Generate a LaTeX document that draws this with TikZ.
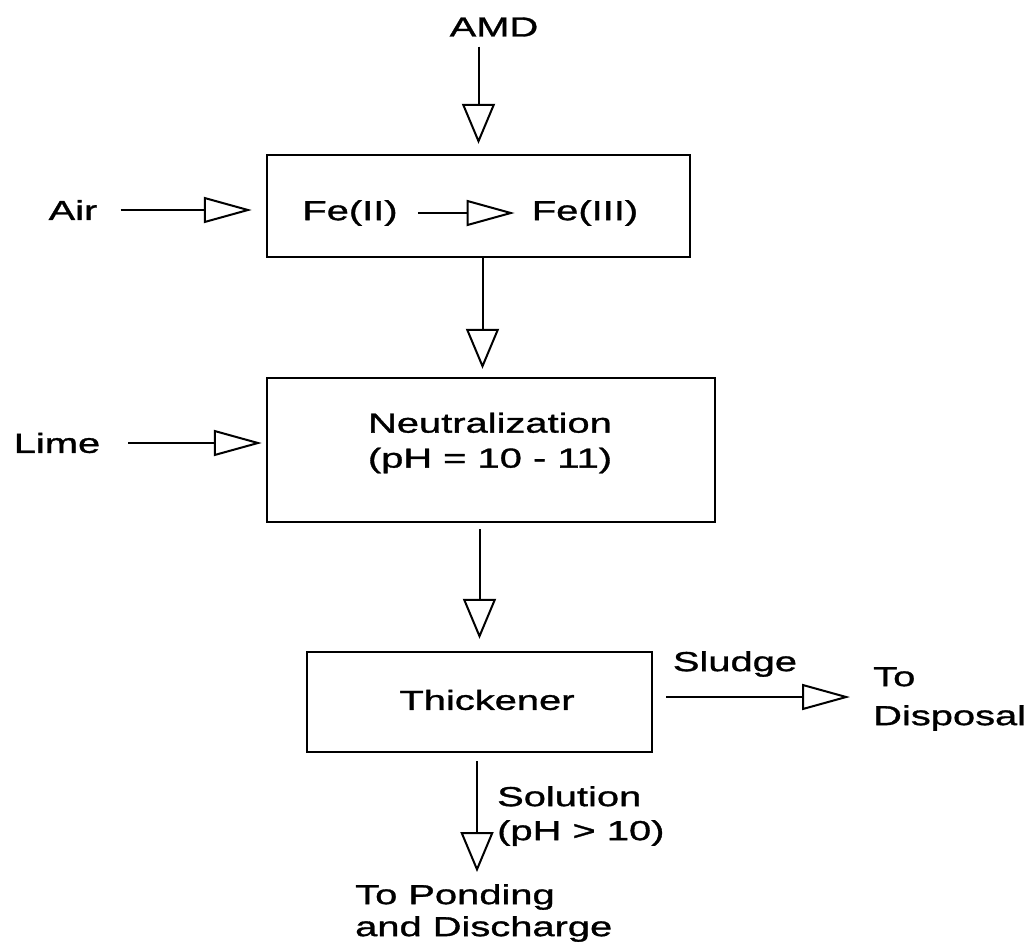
\documentclass[tikz,border=0pt]{standalone}
\usepackage{fontspec}
\setmainfont{Liberation Sans}[FakeStretch=1.45,FakeBold=1.2]
\usetikzlibrary{arrows.meta}
\begin{document}
\begin{tikzpicture}[x=1pt,y=-1pt,
  every node/.style={font=\fontsize{27.5}{33}\selectfont, inner sep=0pt},
  box/.style={draw, line width=2.4pt, fill=none},
  harrow/.style={line width=2pt, -{Triangle[open,length=48pt,width=26pt,line width=2pt]}},
  varrow/.style={line width=2pt, -{Triangle[open,length=40pt,width=33pt,line width=2pt]}}]
\fill[white] (0,0) rectangle (1034,946);
\useasboundingbox (0,0) rectangle (1034,946);
% boxes
\node[box, minimum width=423pt, minimum height=102pt] (box1) at (478.5,206) {};
\node[box, minimum width=448pt, minimum height=144pt] (box2) at (491,450) {};
\node[box, minimum width=345pt, minimum height=100pt] (box3) at (479.5,702) {};
% texts
\node (amd) at (494,27) {AMD};
\node (air) at (73,210) {Air};
\node (fe2) at (350,213) {Fe(II)};
\node (fe3) at (585,213) {Fe(III)};
\node (lime) at (57,443) {Lime};
\node[align=center, font=\fontsize{27.5}{35}\selectfont] (neut) at (490,443) {Neutralization\\(pH = 10 - 11)};
\node (thick) at (487,700) {Thickener};
\node[anchor=south] (sludge) at (735,677) {Sludge};
\node[anchor=west, align=left, font=\fontsize{27.5}{39}\selectfont] (disp) at (873,699) {To\\Disposal};
\node[anchor=west, align=left, font=\fontsize{27.5}{34}\selectfont] (sol) at (497,816) {Solution\\(pH > 10)};
\node[anchor=west, align=left, font=\fontsize{27.5}{32}\selectfont] (pond) at (355,913) {To Ponding\\and Discharge};
% end points
\coordinate (sludgeend) at (850,697);
\coordinate (solend) at (477,872);
% connectors
\draw[varrow, shorten <=10pt, shorten >=10pt] (amd.south -| box1.north) -- (box1.north);
\draw[harrow, shorten <=23pt, shorten >=14pt] (air.east) -- (air.east -| box1.west);
\draw[harrow, shorten <=20pt, shorten >=17pt] (fe2.east) -- (fe3.west);
\draw[varrow, shorten >=8pt] ([xshift=4pt]box1.south) -- ([xshift=4pt]box1.south |- box2.north);
\draw[harrow, shorten <=28pt, shorten >=4pt] (lime.east) -- (lime.east -| box2.west);
\draw[varrow, shorten <=6pt, shorten >=12pt] (box3.north |- box2.south) -- (box3.north);
\draw[harrow, shorten <=13pt] ([yshift=5pt]box3.east) -- (sludgeend);
\draw[varrow, shorten <=8pt] (box3.south -| solend) -- (solend);
\end{tikzpicture}
\end{document}
